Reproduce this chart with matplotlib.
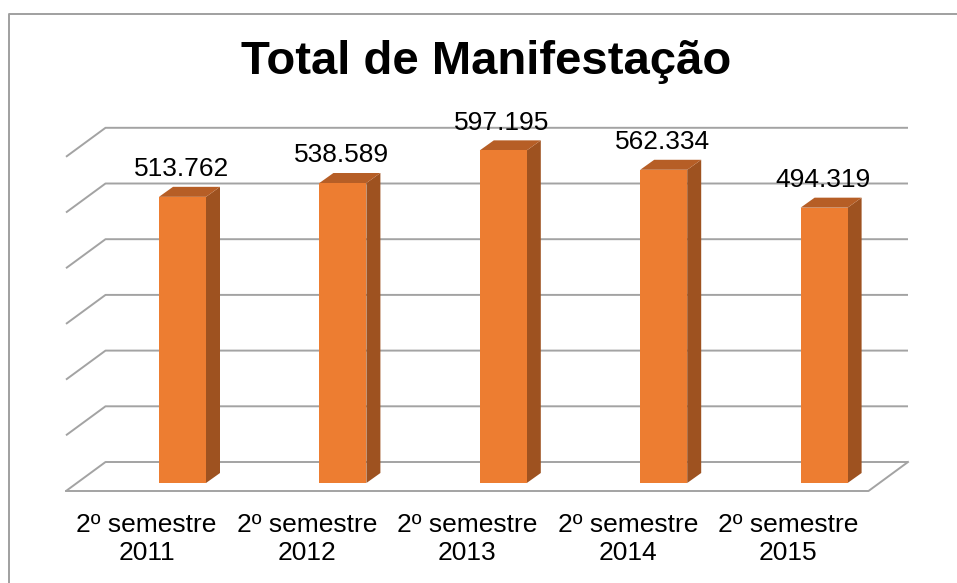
import matplotlib.pyplot as plt
from matplotlib.patches import Polygon
from matplotlib.lines import Line2D

categories = ["2º semestre\n2011", "2º semestre\n2012", "2º semestre\n2013",
              "2º semestre\n2014", "2º semestre\n2015"]
values = [513762, 538589, 597195, 562334, 494319]
value_labels = ["513.762", "538.589", "597.195", "562.334", "494.319"]
grid_values = [0, 100000, 200000, 300000, 400000, 500000, 600000]

W, H = 957, 583
SLOT = 160.4      # px per category
K = 0.000557      # px per value unit
X0, Y0 = 146.5, 491   # px of category 0 centre / floor front

plt.rcParams['font.family'] = ['Liberation Sans', 'DejaVu Sans']

fig = plt.figure(figsize=(W / 100, H / 100), dpi=100)
ax = fig.add_axes([0, 0, 1, 1])
ax.set_xlim(-X0 / SLOT, (W - X0) / SLOT)
ax.set_ylim(-(H - Y0) / K, Y0 / K)
ax.axis('off')

# 3d offsets in data units
wall_dx, wall_dy = 39.5 / SLOT, 29 / K      # floor front -> back wall
left_x = (66 - X0) / SLOT
right_x = (908 - X0) / SLOT
grid_col = '#a3a3a3'

for g in grid_values:
    ax.plot([left_x, left_x + wall_dx, right_x], [g, g + wall_dy, g + wall_dy],
            color=grid_col, lw=1.4, zorder=1, solid_capstyle='butt')
# floor front and right edges
ax.plot([left_x, right_x - wall_dx, right_x], [0, 0, wall_dy],
        color=grid_col, lw=1.4, zorder=1)

# bars
bar_off = (159 - X0) / SLOT
bar_w = 47 / SLOT
base = 8 / K
bdx, bdy = 14 / SLOT, 10 / K
front_c, side_c, top_c = '#ED7D31', '#9E5220', '#B65E26'
for i, v in enumerate(values):
    x0 = i + bar_off
    x1 = x0 + bar_w
    y0 = base
    y1 = base + v
    ax.add_patch(Polygon([(x1, y0), (x1 + bdx, y0 + bdy), (x1 + bdx, y1 + bdy), (x1, y1)],
                         closed=True, fc=side_c, ec='none', zorder=3))
    ax.add_patch(Polygon([(x0, y1), (x1, y1), (x1 + bdx, y1 + bdy), (x0 + bdx, y1 + bdy)],
                         closed=True, fc=top_c, ec='none', zorder=3))
    ax.add_patch(Polygon([(x0, y0), (x1, y0), (x1, y1), (x0, y1)],
                         closed=True, fc=front_c, ec='none', zorder=4))
    ax.annotate(value_labels[i], (x0 + bar_w / 2, y1), xytext=(-1, 20),
                textcoords='offset points', ha='center', va='center',
                fontsize=19, color='black', zorder=5)

# category labels
for i, c in enumerate(categories):
    ax.text(i, -(539 - Y0) / K, c, ha='center', va='center', fontsize=19,
            linespacing=1.18)

fig.text(486 / W, 1 - 62 / H, "Total de Manifestação", ha='center', va='center',
         fontsize=34, fontweight='bold')

# chart border (left and top visible)
fig.add_artist(Line2D([8.5 / W, 8.5 / W, 1], [0, 1 - 14 / H, 1 - 14 / H],
                      transform=fig.transFigure, color='#a0a0a0', lw=1.4))

fig.savefig('out.png', dpi=100)
